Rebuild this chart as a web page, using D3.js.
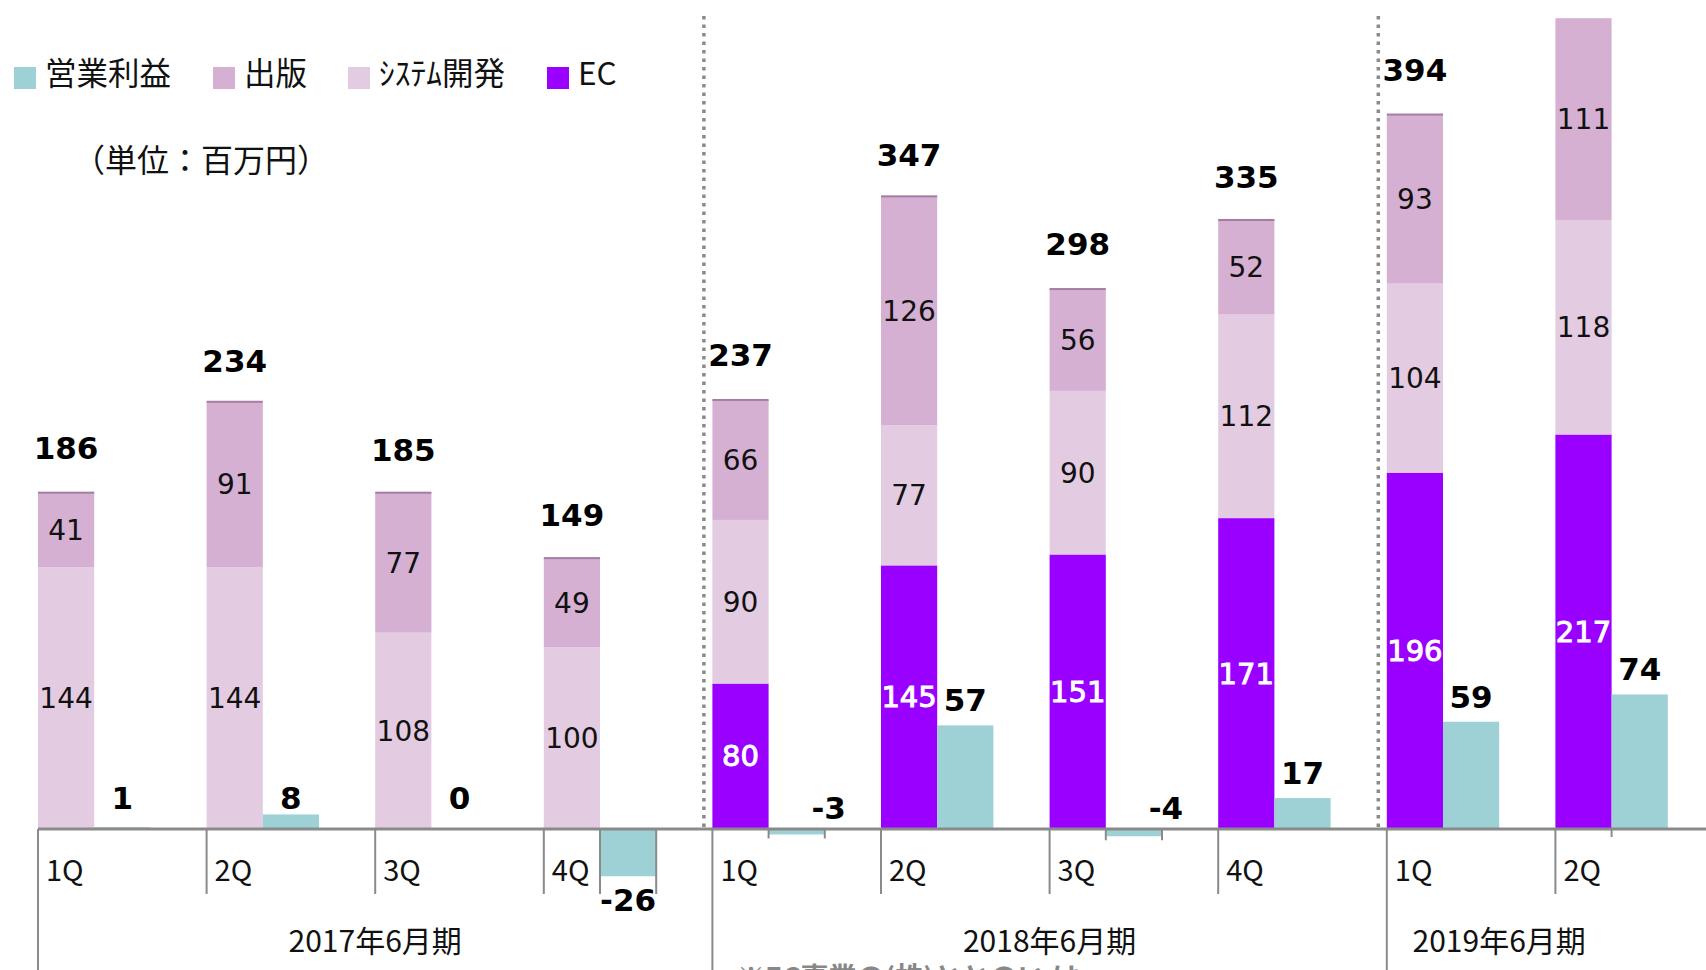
<!DOCTYPE html>
<head>
    <meta charset="utf-8">
    <script src="https://d3js.org/d3.v7.min.js"></script>
    <style>
        body { margin: 0; background: #fff; }
        .num { font-family: "DejaVu Sans", Verdana, sans-serif; }
        .jp { font-family: "Noto Sans CJK JP", "Noto Sans", sans-serif; }
    </style>
</head>
<body>
<svg id="chart" width="1706" height="970"></svg>
<script>
    // data -----------------------------------------------------------------
    var quarters = ["1Q", "2Q", "3Q", "4Q", "1Q", "2Q", "3Q", "4Q", "1Q", "2Q"];
    var periods = ["2017年6月期", "2018年6月期", "2019年6月期"];
    var periodOf = [0, 0, 0, 0, 1, 1, 1, 1, 2, 2];
    var ec = [0, 0, 0, 0, 80, 145, 151, 171, 196, 217];
    var system = [144, 144, 108, 100, 90, 77, 90, 112, 104, 118];
    var publish = [41, 91, 77, 49, 66, 126, 56, 52, 93, 111];
    var totals = [186, 234, 185, 149, 237, 347, 298, 335, 394, null];
    var profit = [1, 8, 0, -26, -3, 57, -4, 17, 59, 74];
    var legendNames = ["営業利益", "出版", "ｼｽﾃﾑ開発", "EC"];
    var unitLabel = "（単位：百万円）";
    var footnote = "※EC事業の(株)ととのい は";

    var colors = {ec: "#9900ff", system: "#e3cbe1", publish: "#d5b0d3", profit: "#9dd1d5"};
    var legendColors = [colors.profit, colors.publish, colors.system, colors.ec];
    var gray = "#8a8a8a";

    var svg = d3.select("#chart");

    var rows = quarters.map(function(q, i) {
        return {i: i, ec: ec[i], system: system[i], publish: publish[i]};
    });

    var x = d3.scaleBand()
        .domain(d3.range(quarters.length))
        .range([38, 38 + 168.6 * quarters.length])
        .paddingInner(0).paddingOuter(0);
    var bw = x.bandwidth() / 3;

    var y = d3.scaleLinear()
        .domain([0, 456])
        .range([829, 0]);

    // stacked bars -----------------------------------------------------------
    var keys = ["ec", "system", "publish"];
    var stacked = d3.stack().keys(keys)(rows);

    var layers = svg.append("g").selectAll("g")
        .data(stacked)
        .enter().append("g")
        .attr("fill", function(d) { return colors[d.key]; });

    layers.selectAll("rect")
        .data(function(d) { return d; })
        .enter().append("rect")
        .attr("x", function(d, i) { return x(i); })
        .attr("width", bw)
        .attr("y", function(d) { return y(d[1]); })
        .attr("height", function(d) { return y(d[0]) - y(d[1]); });

    // thin darker line on top of the bars with a total
    var tops = stacked[stacked.length - 1];
    svg.append("g").selectAll("rect")
        .data(tops)
        .enter().filter(function(d, i) { return totals[i] != null; })
        .append("rect")
        .attr("x", function(d) { return x(d.data.i); })
        .attr("width", bw)
        .attr("y", function(d) { return y(d[1]) - 1; })
        .attr("height", 2)
        .attr("fill", "#a47da2");

    // segment labels
    stacked.forEach(function(layer) {
        var isEc = layer.key == "ec";
        svg.append("g").selectAll("text")
            .data(layer.filter(function(d) { return d[1] - d[0] > 0; }))
            .enter().append("text")
            .attr("class", "num")
            .attr("x", function(d) { return x(d.data.i) + bw / 2; })
            .attr("y", function(d) { return (y(d[0]) + y(d[1])) / 2 + 10; })
            .attr("text-anchor", "middle")
            .attr("font-size", isEc ? 29 : 28)
            .attr("fill", isEc ? "#fff" : "#111")
            .attr("stroke", isEc ? "#fff" : "none")
            .attr("stroke-width", 1)
            .text(function(d) { return d[1] - d[0]; });
    });

    // totals
    svg.append("g").selectAll("text")
        .data(tops.filter(function(d, i) { return totals[i] != null; }))
        .enter().append("text")
        .attr("class", "num")
        .attr("x", function(d) { return x(d.data.i) + bw / 2; })
        .attr("y", function(d) { return y(totals[d.data.i]) - 32; })
        .attr("text-anchor", "middle")
        .attr("font-size", 31)
        .attr("font-weight", "bold")
        .attr("fill", "#000")
        .text(function(d) { return totals[d.data.i]; });

    // operating profit bars -------------------------------------------------
    var pg = svg.append("g");
    pg.selectAll("rect")
        .data(profit)
        .enter().append("rect")
        .attr("x", function(d, i) { return x(i) + bw; })
        .attr("width", bw)
        .attr("y", function(d) { return y(Math.max(0, d)); })
        .attr("height", function(d) { return Math.abs(y(d) - y(0)); })
        .attr("fill", colors.profit);

    // grey side lines on the negative bars
    profit.forEach(function(d, i) {
        if (d >= 0) return;
        [x(i) + bw, x(i) + 2 * bw].forEach(function(px) {
            pg.append("line")
                .attr("x1", px).attr("x2", px)
                .attr("y1", y(0)).attr("y2", d < -10 ? 894 : y(d) + 4)
                .attr("stroke", gray).attr("stroke-width", 2);
        });
    });

    pg.selectAll("text")
        .data(profit)
        .enter().append("text")
        .attr("class", "num")
        .attr("x", function(d, i) {
            var cx = x(i) + bw * 1.5;
            return (d < 0 && d > -10) ? cx + 32 : cx;
        })
        .attr("y", function(d) {
            if (d < 0 && d > -10) return y(0) - 10;
            if (Math.abs(d) < 10) return y(0) - 20;
            if (d < 0) return y(d) + 35;
            return y(d) - 14;
        })
        .attr("text-anchor", "middle")
        .attr("font-size", 31)
        .attr("font-weight", "bold")
        .attr("fill", "#000")
        .text(function(d) { return d; });

    // dotted separators between fiscal years ---------------------------------
    [4, 8].forEach(function(i) {
        var px = x(i) - 8.5;
        svg.append("line")
            .attr("x1", px).attr("x2", px)
            .attr("y1", 16).attr("y2", 832)
            .attr("stroke", gray)
            .attr("stroke-width", 3.5)
            .attr("stroke-dasharray", "3.5,5");
    });

    // axis -------------------------------------------------------------------
    svg.append("line")
        .attr("x1", x(0)).attr("x2", 1706)
        .attr("y1", y(0)).attr("y2", y(0))
        .attr("stroke", gray).attr("stroke-width", 3);

    var ticks = svg.append("g");
    quarters.forEach(function(q, i) {
        var first = i == 0 || periodOf[i] != periodOf[i - 1];
        ticks.append("line")
            .attr("x1", x(i)).attr("x2", x(i))
            .attr("y1", y(0)).attr("y2", first ? 970 : 894)
            .attr("stroke", gray).attr("stroke-width", 2);
        ticks.append("text")
            .attr("class", "jp")
            .attr("x", x(i) + 8)
            .attr("y", 881)
            .attr("font-size", 29)
            .attr("fill", "#111")
            .text(q);
    });
    // short tick at the end of the last bar pair
    var lastEnd = x(quarters.length - 1) + bw;
    ticks.append("line")
        .attr("x1", lastEnd).attr("x2", lastEnd)
        .attr("y1", y(0)).attr("y2", y(0) + 8)
        .attr("stroke", gray).attr("stroke-width", 2);

    periods.forEach(function(p, k) {
        var idx = d3.range(quarters.length).filter(function(i) { return periodOf[i] == k; });
        var start = x(idx[0]);
        var last = idx[idx.length - 1];
        var end = last + 1 < quarters.length ? x(last + 1) : x(last) + bw;
        svg.append("text")
            .attr("class", "jp")
            .attr("x", (start + end) / 2)
            .attr("y", 952)
            .attr("text-anchor", "middle")
            .attr("font-size", 30)
            .attr("fill", "#111")
            .text(p);
    });

    // footnote, mostly cut off by the bottom edge
    svg.append("text")
        .attr("class", "jp")
        .attr("x", 737)
        .attr("y", 988)
        .attr("font-size", 28)
        .attr("font-weight", "bold")
        .attr("fill", "#888")
        .text(footnote);

    // legend -----------------------------------------------------------------
    var legendX = [14, 213, 348, 547];
    var lg = svg.append("g");
    legendNames.forEach(function(name, i) {
        lg.append("rect")
            .attr("x", legendX[i]).attr("y", 67)
            .attr("width", 22).attr("height", 22)
            .attr("fill", legendColors[i]);
        lg.append("text")
            .attr("class", "jp")
            .attr("x", legendX[i] + 31)
            .attr("y", 85)
            .attr("font-size", 31.5)
            .attr("fill", "#111")
            .text(name);
    });

    svg.append("text")
        .attr("class", "jp")
        .attr("x", 73)
        .attr("y", 172)
        .attr("font-size", 32)
        .attr("fill", "#111")
        .text(unitLabel);
</script>
</body>
